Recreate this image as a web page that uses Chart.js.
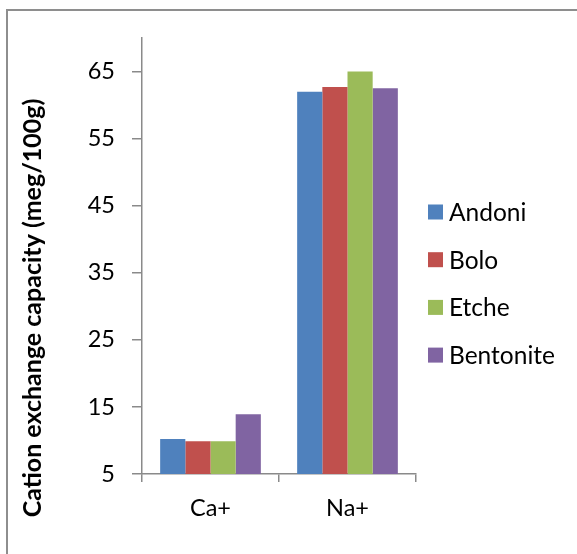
<!DOCTYPE html>
<html>
<head>
<meta charset="utf-8">
<script src="https://cdn.jsdelivr.net/npm/chart.js@4.4.0/dist/chart.umd.min.js"></script>
<style>
html, body { margin: 0; padding: 0; background: #fff; }
#wrap { position: relative; width: 577px; height: 554px; overflow: hidden; }
#frame { position: absolute; left: 6px; top: 9px; width: 600px; height: 600px;
         border-top: 2px solid #8e8e8e; border-left: 2px solid #8e8e8e; }
canvas { position: absolute; left: 0; top: 0; }
</style>
</head>
<body>
<div id="wrap">
    <div id="frame"></div>
    <canvas id="cecChart" width="577" height="554"></canvas>
</div>
<script>
// cation exchange capacity, meg/100g
const ions = ['Ca+', 'Na+'];
const andoni = [10.2, 62.0];
const bolo = [9.9, 62.7];
const etche = [9.9, 65.0];
const bentonite = [13.9, 62.5];

const seriesNames = ['Andoni', 'Bolo', 'Etche', 'Bentonite'];
const seriesColors = ['#4f81bd', '#c0504d', '#9bbb59', '#8064a2'];
const yTicks = [5, 15, 25, 35, 45, 55, 65];
const yTitle = 'Cation exchange capacity (meg/100g)';

const axisGrey = '#8a8a8a';
const fontFamily = 'Lato, "Open Sans", sans-serif';

let ctx = document.getElementById('cecChart').getContext('2d');

// legend and rotated axis title drawn straight onto the canvas
let extrasPlugin = {
    id: 'extras',
    afterDraw(chart){
        let c = chart.ctx;
        c.save();
        c.font = '24.5px ' + fontFamily;
        c.textBaseline = 'middle';
        c.textAlign = 'left';
        let startY = 212;
        let step = 47.7;
        chart.data.datasets.forEach((ds, i) => {
            let y = startY + i * step;
            c.fillStyle = ds.backgroundColor;
            c.fillRect(428, y - 7.5, 15, 15);
            c.fillStyle = '#000';
            c.fillText(ds.label, 449, y + 1);
        });

        c.translate(33, 308);
        c.rotate(-Math.PI / 2);
        c.font = 'bold 25px ' + fontFamily;
        c.textAlign = 'center';
        c.fillStyle = '#000';
        c.fillText(yTitle, 0, 0);
        c.restore();
    }
};

let config = {
    type: 'bar',
    data: {
        labels: ions,
        datasets: [
            { label: seriesNames[0], data: andoni, backgroundColor: seriesColors[0] },
            { label: seriesNames[1], data: bolo, backgroundColor: seriesColors[1] },
            { label: seriesNames[2], data: etche, backgroundColor: seriesColors[2] },
            { label: seriesNames[3], data: bentonite, backgroundColor: seriesColors[3] }
        ]
    },
    options: {
        responsive: false,
        animation: false,
        layout: {
            padding: { top: 38, right: 161, bottom: 0, left: 0 }
        },
        datasets: {
            bar: { categoryPercentage: 0.735, barPercentage: 1.0, borderWidth: 0 }
        },
        plugins: {
            legend: { display: false },
            tooltip: { enabled: false }
        },
        scales: {
            x: {
                grid: { drawOnChartArea: false, tickLength: 8, color: axisGrey, lineWidth: 1.5, offset: true },
                border: { color: axisGrey, width: 1.5 },
                ticks: { color: '#000', font: { family: fontFamily, size: 23.5 }, padding: 12, maxRotation: 0 },
                afterFit(scale){ scale.height = 80; }
            },
            y: {
                min: 5,
                max: 70,
                grid: { drawOnChartArea: false, tickLength: 10, color: axisGrey, lineWidth: 1.5 },
                border: { color: axisGrey, width: 1.5 },
                ticks: { color: '#000', font: { family: fontFamily, size: 23.5 }, padding: 17 },
                afterBuildTicks(scale){ scale.ticks = yTicks.map(v => ({ value: v })); },
                afterFit(scale){ scale.width = 142; }
            }
        }
    },
    plugins: [extrasPlugin]
};

let chart = new Chart(ctx, config);
</script>
</body>
</html>
